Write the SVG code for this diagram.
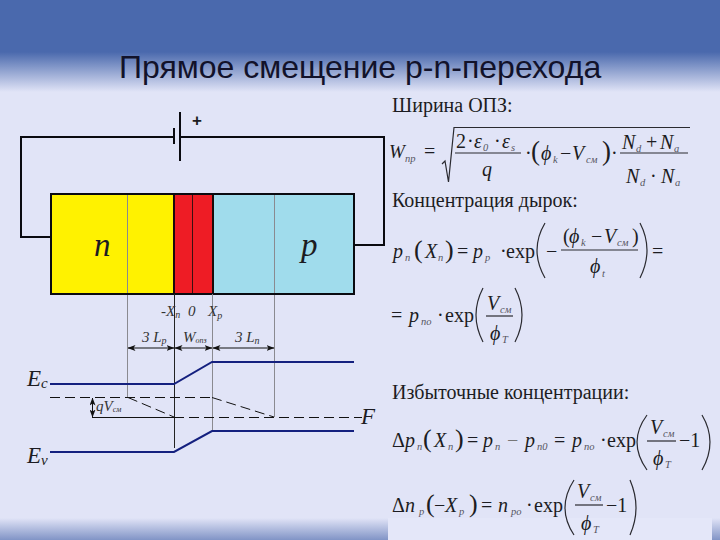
<svg xmlns="http://www.w3.org/2000/svg" width="720" height="540" viewBox="0 0 720 540">
<style>
text{font-family:"Liberation Serif","DejaVu Serif",serif;fill:#1c1c22}
.t{font-family:"Liberation Sans",Arial,sans-serif;font-size:32px;fill:#12122a}
.h{font-size:20px}
.m{font-size:20px;font-style:italic}
.u{font-size:20px}
.s{font-size:10.500px;font-style:italic;fill:#55555f}
.l{font-size:15px;font-style:italic;fill:#333}
.e{font-size:23px;font-style:italic}
.p{fill:none;stroke:#2a2a30;stroke-width:1.2}
.k{fill:none;stroke:#0a0a10;stroke-width:2}
.band{fill:none;stroke:#14207f;stroke-width:2}
.g{stroke:#8a8a90;stroke-width:1;fill:none}
.d{stroke:#111;stroke-width:1;fill:none;stroke-dasharray:10 5}
</style>
<defs>
<linearGradient id="top" x1="0" y1="0" x2="0" y2="1"><stop offset="0" stop-color="#4a69ad"/><stop offset=".565" stop-color="#4a69ad"/><stop offset="1" stop-color="#e1e4f7"/></linearGradient>
<linearGradient id="bot" x1="0" y1="0" x2="0" y2="1"><stop offset="0" stop-color="#e1e4f7"/><stop offset="1" stop-color="#8194c6"/></linearGradient>
<marker id="a" viewBox="0 0 8 6" refX="7.500" refY="3" markerWidth="8" markerHeight="6" orient="auto-start-reverse" markerUnits="userSpaceOnUse"><path d="M0 0L8 3L0 6L2 3Z" fill="#111"/></marker>
</defs>
<rect width="720" height="540" fill="#e1e4f7"/>
<rect width="720" height="92" fill="url(#top)"/>
<rect y="518" width="720" height="22" fill="url(#bot)"/>
<rect x="388" y="518" width="324" height="22" fill="#e4e7f9"/>
<text class="t" x="119" y="78">Прямое смещение p-n-перехода</text>

<g id="device">
<rect x="51" y="194" width="123" height="100" fill="#fff200"/>
<rect x="174" y="194" width="39" height="100" fill="#ee1c25"/>
<rect x="213" y="194" width="141" height="100" fill="#a0dcec"/>
<path class="g" d="M127.500 194V397M274.500 194V417"/>
<path d="M192.500 194V294" stroke="#3a1010" stroke-width="1" fill="none"/>
<path d="M174 194V294M213 194V294" stroke="#1a0a0a" stroke-width="2" fill="none"/>
<rect class="k" x="51" y="194" width="303" height="100"/>
<text x="94" y="256" font-size="33" font-style="italic">n</text>
<text x="301" y="256" font-size="33" font-style="italic">p</text>
</g>
<g id="battery">
<path d="M174 128V144M180 112V161" stroke="#0a0a10" stroke-width="2" fill="none"/>
<text x="192" y="126" font-size="17" font-weight="bold" style="font-family:'Liberation Sans',sans-serif">+</text>
</g>
<g id="connectors">
<path class="k" d="M174 137H21V237H51M180 137H384V245H354"/>
<path d="M174.500 294V448" stroke="#222" stroke-width="1" fill="none"/>
<path class="g" d="M212.500 294V430"/>
<path d="M128 348H174" stroke="#111" stroke-width="1.200" fill="none" marker-start="url(#a)" marker-end="url(#a)"/>
<path d="M175 348H212" stroke="#111" stroke-width="1.200" fill="none" marker-start="url(#a)" marker-end="url(#a)"/>
<path d="M213 348H274" stroke="#111" stroke-width="1.200" fill="none" marker-start="url(#a)" marker-end="url(#a)"/>
<path class="band" d="M50 384H174L212 362H354"/>
<path class="band" d="M50 452H174L212 431H354"/>
<path class="d" d="M50 397.500H212"/>
<path class="d" d="M128 397.500L174 417M212 397.500L274 417"/>
<path d="M92 417.500H174" stroke="#111" stroke-width="1" fill="none"/>
<path class="d" d="M174 417.500H362"/>
<path d="M92.500 398V417" stroke="#111" stroke-width="1" fill="none" marker-start="url(#a)" marker-end="url(#a)"/>
</g>
<g id="labels">
<text class="l" x="161" y="316">-X<tspan font-size="10" dy="2">n</tspan></text>
<text class="l" x="188" y="316">0</text>
<text class="l" x="208" y="316">X<tspan font-size="10" dy="3">p</tspan></text>
<text class="l" x="142" y="342">3 L<tspan font-size="10" dy="2">p</tspan></text>
<text class="l" x="183" y="342">W<tspan font-size="8" dy="1">опз</tspan></text>
<text class="l" x="235" y="342">3 L<tspan font-size="10" dy="2">n</tspan></text>
<text class="e" x="27" y="386">E<tspan font-size="15" dy="2">c</tspan></text>
<text class="e" x="27" y="463">E<tspan font-size="15" dy="2">v</tspan></text>
<text class="e" x="361" y="424">F</text>
<text class="l" x="96" y="411">qV<tspan font-size="8" dy="1">см</tspan></text>
</g>
<g id="formulas">
<text class="h" x="392" y="112">Ширина ОПЗ:</text>
<text class="m" x="389" y="158" style="font-size:19px">W</text><text class="s" x="405" y="162">пр</text>
<text class="u" x="424" y="158">=</text>
<path class="p" d="M442 164L445 161L448.500 182L454 127.500H690"/>
<text class="u" x="456" y="148">2</text><text class="u" x="467" y="148">·</text><text class="m" x="474" y="148">ε</text><text class="s" x="483" y="151">0</text><text class="u" x="494" y="148">·</text><text class="m" x="502" y="148">ε</text><text class="s" x="511" y="151">s</text>
<path class="p" d="M455 153H521"/>
<text class="m" x="482" y="176">q</text>
<text class="u" x="525" y="160">·</text>
<text class="u" x="531" y="160" style="font-size:27px">(</text>
<text class="m" x="541" y="160">ϕ</text><text class="s" x="553" y="163">k</text>
<text class="u" x="560" y="160">−</text>
<text class="m" x="572" y="160">V</text><text class="s" x="586" y="163">см</text>
<text class="u" x="602" y="160" style="font-size:27px">)</text>
<text class="u" x="611" y="160">·</text>
<text class="m" x="622" y="149">N</text><text class="s" x="636" y="152">d</text>
<text class="u" x="646" y="149">+</text>
<text class="m" x="660" y="149">N</text><text class="s" x="674" y="152">a</text>
<path class="p" d="M620 153H688"/>
<text class="m" x="626" y="183">N</text><text class="s" x="640" y="186">d</text>
<text class="u" x="650" y="183">·</text>
<text class="m" x="661" y="183">N</text><text class="s" x="675" y="186">a</text>

<text class="h" x="392" y="207">Концентрация дырок:</text>
<text class="m" x="393" y="258">p</text><text class="s" x="405" y="261">n</text>
<text class="u" x="414" y="258" style="font-size:26px">(</text>
<text class="m" x="425" y="258">Χ</text><text class="s" x="438" y="261">n</text>
<text class="u" x="445" y="258" style="font-size:26px">)</text>
<text class="u" x="457" y="258">=</text>
<text class="m" x="473" y="258">p</text><text class="s" x="485" y="261">p</text>
<text class="u" x="500" y="258">·</text>
<text class="u" x="506" y="258">exp</text>
<path class="p" d="M545 223Q529 250 545 278M640 223Q654 250 640 278"/>
<text class="u" x="546" y="258">−</text>
<path class="p" d="M561 250H638"/>
<text class="u" x="563" y="243">(</text>
<text class="m" x="569" y="243">ϕ</text><text class="s" x="581" y="246">k</text>
<text class="u" x="591" y="243">−</text>
<text class="m" x="604" y="243">V</text><text class="s" x="617" y="246">см</text>
<text class="u" x="632" y="243">)</text>
<text class="m" x="590" y="273">ϕ</text><text class="s" x="602" y="277">t</text>
<text class="u" x="652" y="258">=</text>

<text class="u" x="391" y="322">=</text>
<text class="m" x="409" y="322">p</text><text class="s" x="421" y="325">по</text>
<text class="u" x="437" y="322">·</text>
<text class="u" x="445" y="322">exp</text>
<path class="p" d="M483 288Q469 315 483 342M515 288Q529 315 515 342"/>
<path class="p" d="M486 316H513"/>
<text class="m" x="487" y="310">V</text><text class="s" x="500" y="313">см</text>
<text class="m" x="490" y="340">ϕ</text><text class="s" x="502" y="343">T</text>

<text class="h" x="392" y="399">Избыточные концентрации:</text>
<text class="u" x="392" y="447">Δ</text>
<text class="m" x="405" y="447">p</text><text class="s" x="417" y="450">n</text>
<text class="u" x="423" y="447" style="font-size:26px">(</text>
<text class="m" x="434" y="447">Χ</text><text class="s" x="448" y="450">n</text>
<text class="u" x="455" y="447" style="font-size:26px">)</text>
<text class="u" x="467" y="447">=</text>
<text class="m" x="483" y="447">p</text><text class="s" x="495" y="450">n</text>
<text class="u" x="507" y="447" style="fill:#777">−</text>
<text class="m" x="525" y="447">p</text><text class="s" x="537" y="450">n0</text>
<text class="u" x="554" y="447">=</text>
<text class="m" x="572" y="447">p</text><text class="s" x="584" y="450">по</text>
<text class="u" x="600" y="447">·</text>
<text class="u" x="607" y="447">exp</text>
<path class="p" d="M647 415Q627 442 647 470M702 415Q718 442 702 470"/>
<path class="p" d="M647 441H676"/>
<text class="m" x="650" y="434">V</text><text class="s" x="663" y="437">см</text>
<text class="m" x="653" y="465">ϕ</text><text class="s" x="665" y="468">T</text>
<text class="u" x="679" y="447">−1</text>

<text class="u" x="392" y="512">Δ</text>
<text class="m" x="405" y="512">n</text><text class="s" x="419" y="515">p</text>
<text class="u" x="426" y="512" style="font-size:26px">(</text>
<text class="u" x="434" y="512">−</text>
<text class="m" x="445" y="512">Χ</text><text class="s" x="459" y="515">p</text>
<text class="u" x="469" y="512" style="font-size:26px">)</text>
<text class="u" x="481" y="512">=</text>
<text class="m" x="498" y="512">n</text><text class="s" x="511" y="515">po</text>
<text class="u" x="526" y="512">·</text>
<text class="u" x="534" y="512">exp</text>
<path class="p" d="M574 480Q556 508 574 535M630 480Q642 508 630 535"/>
<path class="p" d="M575 505H603"/>
<text class="m" x="577" y="498">V</text><text class="s" x="590" y="501">см</text>
<text class="m" x="581" y="530">ϕ</text><text class="s" x="593" y="533">T</text>
<text class="u" x="606" y="512">−1</text>
</g>
</svg>
